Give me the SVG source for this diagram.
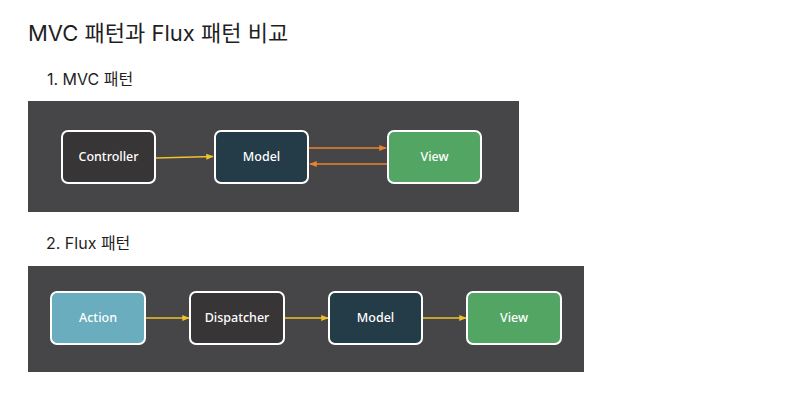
<svg xmlns="http://www.w3.org/2000/svg" width="802" height="401" viewBox="0 0 802 401">
<defs>
<style>
.h1{font-family:"Inter","Noto Sans","Noto Sans CJK KR",sans-serif;font-size:22px;fill:#1f1f1f}
.h2{font-family:"Inter","Noto Sans","Noto Sans CJK KR",sans-serif;font-size:16px;fill:#1f1f1f}
.panel{fill:#464547}
.box{stroke:#ffffff;stroke-width:2}
.lbl{font-family:"Noto Sans","Open Sans",sans-serif;font-size:12.5px;font-weight:500;fill:#ffffff;text-anchor:middle;dominant-baseline:central}
.y{stroke:#f0c22e;stroke-width:1.5;fill:none;marker-end:url(#ay)}
.o{stroke:#e8832f;stroke-width:1.5;fill:none;marker-end:url(#ao)}
</style>
<marker id="ay" viewBox="0 0 10 10" refX="9" refY="5" markerWidth="5" markerHeight="5" orient="auto" markerUnits="strokeWidth"><path d="M0,1 L10,5 L0,9 z" fill="#f0c22e"/></marker>
<marker id="ao" viewBox="0 0 10 10" refX="9" refY="5" markerWidth="5" markerHeight="5" orient="auto" markerUnits="strokeWidth"><path d="M0,1 L10,5 L0,9 z" fill="#e8832f"/></marker>
</defs>
<rect width="802" height="401" fill="#ffffff"/>
<text class="h1" x="28" y="41">MVC 패턴과 Flux 패턴 비교</text>
<text class="h2" x="47" y="85">1. MVC 패턴</text>
<text class="h2" x="46" y="249">2. Flux 패턴</text>
<rect class="panel" x="28" y="101" width="491" height="111"/>
<rect class="panel" x="28" y="266" width="556" height="106"/>
<g id="connectors">
<path class="y" d="M156,158 L213,156.5"/>
<path class="o" d="M309,148 L386,148"/>
<path class="o" d="M387,164 L310,164"/>
<path class="y" d="M146,318 L189,318"/>
<path class="y" d="M285,318 L328,318"/>
<path class="y" d="M423,318 L466,318"/>
</g>
<g id="mvc-controller"><rect class="box" x="62" y="131" width="93" height="52" rx="6" fill="#383536"/><text class="lbl" x="108.5" y="156.5">Controller</text></g>
<g id="mvc-model"><rect class="box" x="215" y="131" width="93" height="52" rx="6" fill="#243c48"/><text class="lbl" x="261.5" y="156.5">Model</text></g>
<g id="mvc-view"><rect class="box" x="388" y="131" width="93" height="52" rx="6" fill="#53a564"/><text class="lbl" x="434.5" y="156.5">View</text></g>
<g id="flux-action"><rect class="box" x="51" y="292" width="94" height="52" rx="6" fill="#69adbe"/><text class="lbl" x="98" y="317.5">Action</text></g>
<g id="flux-dispatcher"><rect class="box" x="190" y="292" width="94" height="52" rx="6" fill="#383536"/><text class="lbl" x="237" y="317.5">Dispatcher</text></g>
<g id="flux-model"><rect class="box" x="329" y="292" width="93" height="52" rx="6" fill="#243c48"/><text class="lbl" x="375.5" y="317.5">Model</text></g>
<g id="flux-view"><rect class="box" x="467" y="292" width="94" height="52" rx="6" fill="#53a564"/><text class="lbl" x="514" y="317.5">View</text></g>
</svg>
